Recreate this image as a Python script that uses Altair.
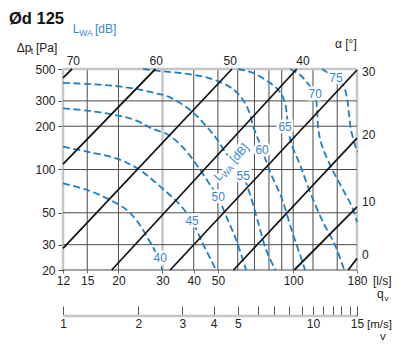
import altair as alt
import pandas as pd

FONT = "Liberation Sans"
W, H = 294, 201

# ---------------- axes ----------------
q_domain = [12, 180]
p_domain = [20, 500]
v_domain = [1, 15]

q_tick_values = [12, 15, 20, 30, 40, 50, 100, 180]
p_tick_values = [20, 30, 50, 100, 200, 300, 500]
v_tick_values = [1, 2, 3, 4, 5, 6, 7, 8, 9, 10, 11, 12, 13, 14, 15]
v_tick_labels = [1, 2, 3, 4, 5, 10, 15]

q_grid_dark = [15, 20, 40, 50, 60, 70, 80, 90, 100, 120, 150]
q_grid_light = [12, 30, 180]
p_grid_dark = [20, 30, 50, 100, 200, 300]
p_grid_light = [500]

# ---------------- damper angle lines (alpha) ----------------
alpha_levels = [70, 60, 50, 40, 30, 20, 10, 0]
alpha_q_start = [12, 12, 12, 18.8, 32.2, 57.7, 101, 166]
alpha_p_start = [433, 109, 28.3, 20, 20, 20, 20, 20]
alpha_q_end = [13.04, 28.1, 56.9, 103.4, 180, 180, 180, 180]
alpha_p_end = [500, 500, 500, 500, 492, 165, 55, 24.1]

alpha_top_labels = [70, 60, 50, 40]
alpha_top_q = [13.2, 28.3, 56.0, 109.5]
alpha_right_labels = [30, 20, 10, 0]
alpha_right_p = [479, 174, 59, 25.4]

# ---------------- sound power level curves L_WA [dB] ----------------
lwa_levels = [40, 45, 50, 55, 60, 65, 70, 75]
lwa40_q = [12, 15, 18, 21.6, 24.1, 26, 28.1, 30]
lwa40_p = [80, 72, 63, 52.3, 42.3, 34.1, 26.8, 20]
lwa45_q = [12, 15, 20, 24.4, 29.4, 35.3, 39.4, 43.8, 48, 49.2]
lwa45_p = [144, 133, 118, 99, 76, 56.6, 43.8, 29.8, 21.7, 20]
lwa50_q = [12, 15.2, 19.4, 23.3, 27.2, 31.7, 37, 41.2, 45.7, 50.1, 53.9, 59.5, 64.8]
lwa50_p = [266, 256, 239, 221, 193, 174, 137, 107, 82, 64, 47.5, 31.5, 20]
lwa55_q = [12, 15.2, 19.4, 24.1, 28.1, 31.7, 38.7, 43.8, 48.7, 53.5, 58.6, 63.1, 67.3, 72.4, 78, 85]
lwa55_p = [401, 393, 381, 361, 339, 321, 259, 210, 169, 132, 107, 90, 66.5, 43, 27.5, 20]
lwa60_q = [25.1, 29.4, 35.3, 42.5, 48.7, 56.9, 62.3, 66.2, 69.3, 72.6, 75.1, 80.9, 90, 99, 106.6, 111.6]
lwa60_p = [500, 484, 469, 447, 419, 367, 313, 259, 198, 160, 137, 96, 63, 37, 25.4, 20]
lwa65_q = [60.2, 69.1, 80.9, 88.6, 92.8, 94.6, 95.5, 98.1, 106.6, 116.8, 131.7, 147.1, 160]
lwa65_p = [500, 469, 399, 346, 290, 228, 197, 153, 107.5, 69.7, 43, 29.8, 20]
lwa70_q = [97.2, 106.6, 115.8, 122.4, 124.6, 125.8, 129.3, 140.4, 156.9, 172, 180]
lwa70_p = [500, 454, 387, 335, 259, 197, 153, 107.5, 74.3, 54.8, 43]
lwa75_q = [130.5, 140.4, 148.4, 158.3, 164.2, 167.3, 170.4, 176.8, 180]
lwa75_p = [500, 461, 433, 387, 314, 239, 188, 148, 132]

lwa_label_q = [29.4, 39.4, 50.1, 63.1, 75.1, 92.8, 122.4, 148.4]
lwa_label_p = [24.2, 43.8, 64.4, 90, 137, 197, 335, 433]
lwa_title_q = [56.5]
lwa_title_p = [112.7]

# ---------------- colours ----------------
BLUE = "#1f7fc6"
BLUE_TXT = "#3a86cc"
DARK = "#4a4a4a"
LIGHT = "#c6c6c6"
TXT = "#222222"

# ---------------- data frames ----------------
curve_series = [
    (40, lwa40_q, lwa40_p), (45, lwa45_q, lwa45_p), (50, lwa50_q, lwa50_p),
    (55, lwa55_q, lwa55_p), (60, lwa60_q, lwa60_p), (65, lwa65_q, lwa65_p),
    (70, lwa70_q, lwa70_p), (75, lwa75_q, lwa75_p),
]
curves = pd.concat(
    [pd.DataFrame({"q": qs, "p": ps, "level": lvl, "i": list(range(len(qs)))})
     for lvl, qs, ps in curve_series],
    ignore_index=True,
)
alpha_df = pd.DataFrame({"alpha": alpha_levels, "q": alpha_q_start, "p": alpha_p_start,
                         "q2": alpha_q_end, "p2": alpha_p_end})
alpha_top_df = pd.DataFrame({"t": [str(a) for a in alpha_top_labels], "q": alpha_top_q,
                             "p": [p_domain[1]] * len(alpha_top_q)})
alpha_right_df = pd.DataFrame({"t": [str(a) for a in alpha_right_labels],
                               "q": [q_domain[1]] * len(alpha_right_p), "p": alpha_right_p})
lwa_lab_df = pd.DataFrame({"t": [str(v) for v in lwa_levels], "q": lwa_label_q, "p": lwa_label_p})

sx = alt.Scale(type="log", domain=q_domain, nice=False)
sy = alt.Scale(type="log", domain=p_domain, nice=False)

x_axis = alt.Axis(values=q_tick_values, format="d", orient="bottom", domain=False, grid=False,
                  tickSize=3, tickColor="#666", labelFont=FONT, labelFontSize=12, labelColor=TXT,
                  labelPadding=2, labelFlush=False, labelOverlap=False, title=None)
y_axis = alt.Axis(values=p_tick_values, format="d", orient="left", domain=False, grid=False,
                  tickSize=5, tickColor="#444", labelFont=FONT, labelFontSize=12, labelColor=TXT,
                  labelPadding=3, labelFlush=False, labelOverlap=False, title=None)


def X(field="q"):
    return alt.X(f"{field}:Q", scale=sx, axis=x_axis)


def Y(field="p"):
    return alt.Y(f"{field}:Q", scale=sy, axis=y_axis)


grid_v_dark = alt.Chart(pd.DataFrame({"q": q_grid_dark})).mark_rule(
    color=DARK, strokeWidth=1).encode(x=X())
grid_v_light = alt.Chart(pd.DataFrame({"q": q_grid_light})).mark_rule(
    color=LIGHT, strokeWidth=2.5).encode(x=X())
grid_h_dark = alt.Chart(pd.DataFrame({"p": p_grid_dark})).mark_rule(
    color=DARK, strokeWidth=1).encode(y=Y())
grid_h_light = alt.Chart(pd.DataFrame({"p": p_grid_light})).mark_rule(
    color=LIGHT, strokeWidth=2.5).encode(y=Y())

alpha_lines = alt.Chart(alpha_df).mark_rule(color="#161616", strokeWidth=1.8).encode(
    x=X(), y=Y(), x2="q2:Q", y2="p2:Q")

lwa_lines = alt.Chart(curves).mark_line(
    color=BLUE, strokeWidth=1.8, strokeDash=[7, 3.5], interpolate="catmull-rom").encode(
    x=X(), y=Y(), detail="level:N", order="i:Q")

lab_halo = alt.Chart(lwa_lab_df).mark_text(
    font=FONT, fontSize=12, color="white", stroke="white", strokeWidth=5,
    align="center", baseline="middle").encode(x=X(), y=Y(), text="t:N")
lab_text = alt.Chart(lwa_lab_df).mark_text(
    font=FONT, fontSize=12, color=BLUE_TXT, align="center", baseline="middle").encode(
    x=X(), y=Y(), text="t:N")

top_lab = alt.Chart(alpha_top_df).mark_text(
    font=FONT, fontSize=12, color=TXT, align="center", baseline="alphabetic", dy=-4).encode(
    x=X(), y=Y(), text="t:N")
right_lab = alt.Chart(alpha_right_df).mark_text(
    font=FONT, fontSize=12, color=TXT, align="left", baseline="middle", dx=5).encode(
    x=X(), y=Y(), text="t:N")

# rotated L_WA [dB] label inside plot
rot_df = pd.DataFrame({"q": lwa_title_q, "p": lwa_title_p})
ANG = 312


def rot_piece(text, dx, dy, size, halo=False):
    kw = dict(font=FONT, fontSize=size, align="left", baseline="alphabetic",
              angle=ANG, dx=dx, dy=dy, text=text)
    if halo:
        kw.update(color="white", stroke="white", strokeWidth=5)
    else:
        kw.update(color=BLUE_TXT)
    return alt.Chart(rot_df).mark_text(**kw).encode(x=X(), y=Y())


rot_layers = []
for halo in (True, False):
    rot_layers += [rot_piece("L", -22.5, 4, 12, halo),
                   rot_piece("WA", -15.8, 6.5, 8.5, halo),
                   rot_piece("[dB]", 1.2, 4, 12, halo)]


def ann(text, x, y, size=12, color=TXT, weight="normal", align="left"):
    return alt.Chart(pd.DataFrame({"t": [text]})).mark_text(
        font=FONT, fontSize=size, color=color, fontWeight=weight, align=align,
        baseline="alphabetic").encode(x=alt.value(x), y=alt.value(y), text="t:N")


annotations = [
    ann("Ød 125", -54, -45.5, size=16.5, color="#111", weight="bold"),
    ann("L", 9.7, -35.7, color=BLUE_TXT),
    ann("WA", 16.2, -33.5, size=8.5, color=BLUE_TXT),
    ann("[dB]", 32, -35.7, color=BLUE_TXT),
    ann("Δp", -46.3, -17.3),
    ann("t", -32.3, -15.3, size=8.5),
    ann("[Pa]", -27, -17.3),
    ann("α [°]", 272, -21),
    ann("[l/s]", 310, 216),
    ann("q", 314, 229),
    ann("v", 321.5, 232, size=8),
    ann("[m/s]", 304, 259, size=11.5),
    ann("v", 317, 271, size=11.5),
]

main = alt.layer(
    grid_v_light, grid_v_dark, grid_h_dark, grid_h_light,
    lwa_lines, alpha_lines,
    lab_halo, lab_text, top_lab, right_lab,
    *rot_layers, *annotations,
)

label_test = "indexof([" + ",".join(str(v) for v in v_tick_labels) + "], datum.value) >= 0 ? datum.label : ''"
v_axis = alt.Axis(orient="bottom", offset=36, values=v_tick_values, tickSize=10, tickColor="#555",
                  domain=False, grid=False, title=None, format="d", labelExpr=label_test,
                  labelFont=FONT, labelFontSize=12, labelColor=TXT, labelPadding=2,
                  labelFlush=False, labelOverlap=False)
v_line = alt.Chart(pd.DataFrame({"v1": [v_domain[0]], "v2": [v_domain[1]]})).mark_rule(
    color=LIGHT, strokeWidth=2.5).encode(
    x=alt.X("v1:Q", scale=alt.Scale(type="log", domain=v_domain, nice=False), axis=v_axis),
    x2="v2:Q", y=alt.value(247))

chart = alt.layer(main, v_line).resolve_scale(x="independent").properties(
    width=W, height=H,
    autosize=alt.AutoSizeParams(type="none"),
    padding={"left": 55, "top": 61, "right": 35, "bottom": 73},
).configure_view(stroke=None)

chart.save("out.html", embed_options={"renderer": "svg", "actions": False})
